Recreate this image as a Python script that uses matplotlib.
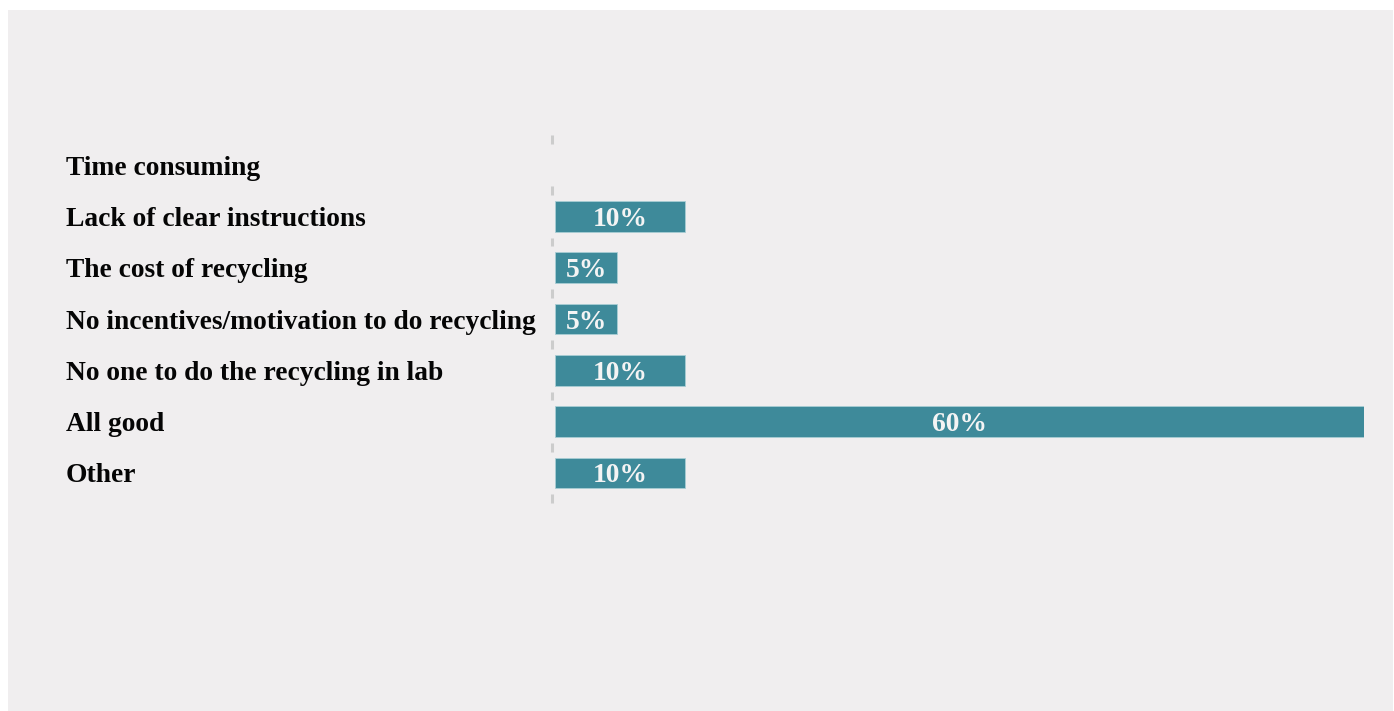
"""Horizontal bar chart: barriers to recycling in the lab (share of answers)."""

import matplotlib

matplotlib.use("Agg")
import matplotlib.pyplot as plt
from matplotlib.patches import Rectangle

CATEGORIES = [
    "Time consuming",
    "Lack of clear instructions",
    "The cost of recycling",
    "No incentives/motivation to do recycling",
    "No one to do the recycling in lab",
    "All good",
    "Other",
]
# Shares in percent.
SHARES = [0.0, 9.65, 4.6, 4.6, 9.65, 60.0, 9.65]

BG = "#f0eeef"
BAR = "#3e8a9a"
W, H = 1394, 711

plt.rcParams["font.family"] = ["Liberation Serif", "DejaVu Serif"]
plt.rcParams["font.weight"] = "bold"

fig = plt.figure(figsize=(W / 100, H / 100), dpi=100, facecolor="white")
# grey panel behind everything, leaving a thin white margin top/left
fig.patches.append(Rectangle((8 / W, 0), 1 - 9 / W, 1 - 10 / H,
                             transform=fig.transFigure, facecolor=BG,
                             edgecolor="none", zorder=-10))

ax = fig.add_axes([555 / W, 1 - 498.6 / H, 809 / W, 359.2 / H])
ax.set_facecolor("none")

y = list(range(len(CATEGORIES)))
bars = ax.barh(y, SHARES, height=0.6, color=BAR, edgecolor="#a9cdd4",
               linewidth=0.6, zorder=2)
for bar, v in zip(bars, SHARES):
    if v <= 0:
        bar.set_linewidth(0)
        continue
    ax.text(bar.get_width() / 2, bar.get_y() + bar.get_height() / 2,
            f"{round(v)}%", ha="center", va="center_baseline",
            color="#f4f4f4", fontsize=19.8, fontweight="bold", zorder=3)

ax.set_xlim(0, 60)
ax.set_ylim(len(CATEGORIES) - 0.5, -0.5)

# short grey dashes on the baseline, one at each row boundary
bounds = [k - 0.5 for k in range(len(CATEGORIES) + 1)]
ax.vlines([-0.22] * len(bounds), [b - 0.085 for b in bounds],
          [b + 0.085 for b in bounds], colors="#cccccc", linewidth=2.2,
          clip_on=False, zorder=1)

ax.set_yticks(y)
ax.set_yticklabels(CATEGORIES, ha="left", fontsize=19.8, fontweight="bold",
                   color="#050505")
ax.tick_params(axis="y", length=0, pad=(555 - 66) * 0.72)
ax.set_xticks([])
for s in ax.spines.values():
    s.set_visible(False)

fig.savefig("out.png", dpi=100, facecolor=fig.get_facecolor())
